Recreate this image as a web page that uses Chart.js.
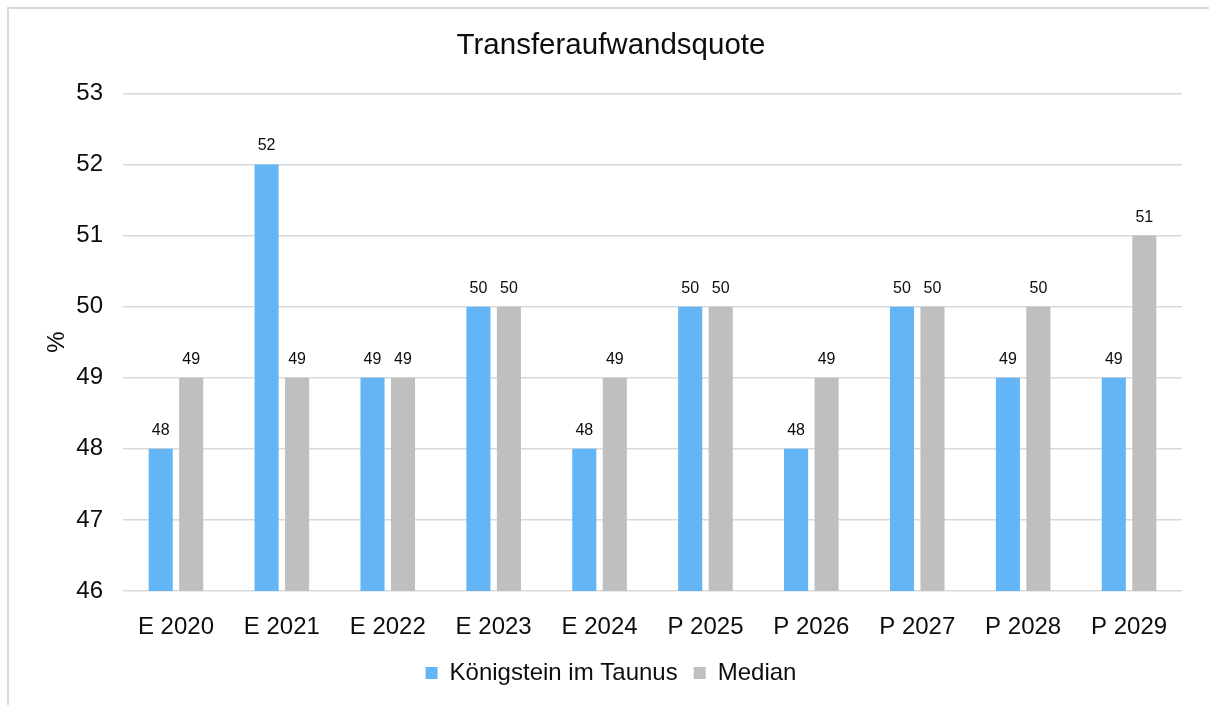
<!DOCTYPE html>
<html>
<head>
    <meta charset="UTF-8">
    <title>Transferaufwandsquote</title>
    <script src="https://cdn.jsdelivr.net/npm/chart.js"></script>
    <style>
        body {
          margin: 0;
          padding: 0;
          background-color: #ffffff;
        }
        #wrap {
          width: 1209px;
          height: 705px;
        }
    </style>
</head>
<body>
<div id="wrap"><canvas id="barChart"></canvas></div>

<script>
    const categories = ["E 2020", "E 2021", "E 2022", "E 2023", "E 2024", "P 2025", "P 2026", "P 2027", "P 2028", "P 2029"];
    const koenigstein = [48, 52, 49, 50, 48, 50, 48, 50, 49, 49];
    const median = [49, 49, 49, 50, 49, 50, 49, 50, 50, 51];
    const yTicks = [46, 47, 48, 49, 50, 51, 52, 53];

    const fontFamily = "'Liberation Sans', Arial, sans-serif";
    const textColor = "#0d0d0d";
    const gridColor = "#d9d9d9";

    // Rahmen oben und links wie im Original
    const framePlugin = {
      id: "frame",
      beforeDraw(chart) {
        const ctx = chart.ctx;
        ctx.save();
        ctx.fillStyle = "#ffffff";
        ctx.fillRect(0, 0, chart.width, chart.height);
        ctx.strokeStyle = gridColor;
        ctx.lineWidth = 2;
        ctx.beginPath();
        ctx.moveTo(8, chart.height);
        ctx.lineTo(8, 8);
        ctx.lineTo(chart.width, 8);
        ctx.stroke();
        ctx.restore();
      }
    };

    // Werte über den Balken
    const valueLabels = {
      id: "valueLabels",
      afterDatasetsDraw(chart) {
        const ctx = chart.ctx;
        ctx.save();
        ctx.font = "16px " + fontFamily;
        ctx.fillStyle = textColor;
        ctx.textAlign = "center";
        ctx.textBaseline = "alphabetic";
        chart.data.datasets.forEach((ds, i) => {
          chart.getDatasetMeta(i).data.forEach((bar, j) => {
            ctx.fillText(String(ds.data[j]), bar.x, bar.y - 14);
          });
        });
        ctx.restore();
      }
    };

    const ctx = document.getElementById("barChart").getContext("2d");
    new Chart(ctx, {
      type: "bar",
      data: {
        labels: categories,
        datasets: [{
          label: "Königstein im Taunus",
          data: koenigstein,
          backgroundColor: "#63b5f6",
          categoryPercentage: 0.576,
          barPercentage: 0.79
        }, {
          label: "Median",
          data: median,
          backgroundColor: "#bfbfbf",
          categoryPercentage: 0.576,
          barPercentage: 0.79
        }]
      },
      options: {
        responsive: true,
        maintainAspectRatio: false,
        animation: false,
        layout: {
          padding: { left: 20, right: 7, top: 0, bottom: 10 }
        },
        plugins: {
          title: {
            display: true,
            text: "Transferaufwandsquote",
            color: textColor,
            font: { family: fontFamily, size: 29.5, weight: "normal" },
            padding: { top: 28, bottom: 30 }
          },
          legend: {
            position: "bottom",
            labels: {
              color: textColor,
              font: { family: fontFamily, size: 24 },
              boxWidth: 12,
              boxHeight: 12,
              padding: 16
            }
          },
          tooltip: { enabled: false }
        },
        scales: {
          x: {
            grid: { display: false },
            border: { display: false },
            ticks: {
              color: textColor,
              font: { family: fontFamily, size: 24 },
              padding: 14,
              maxRotation: 0
            },
            afterFit(scale) { scale.height = 54; }
          },
          y: {
            min: 46,
            max: 53,
            afterBuildTicks(scale) {
              scale.ticks = yTicks.map(v => ({ value: v }));
            },
            grid: { color: gridColor, lineWidth: 1.5, drawTicks: false },
            border: { display: false },
            ticks: {
              color: textColor,
              font: { family: fontFamily, size: 24 },
              padding: 20
            },
            title: {
              display: true,
              text: "%",
              color: textColor,
              font: { family: fontFamily, size: 24 },
              padding: { top: 23, bottom: 0 }
            },
            afterFit(scale) { scale.width = 103; }
          },
          // leere Achse rechts, nur als Abstand
          yRight: {
            position: "right",
            grid: { display: false },
            border: { display: false },
            ticks: { display: false },
            afterFit(scale) { scale.width = 20; }
          }
        }
      },
      plugins: [framePlugin, valueLabels]
    });
</script>
</body>
</html>
